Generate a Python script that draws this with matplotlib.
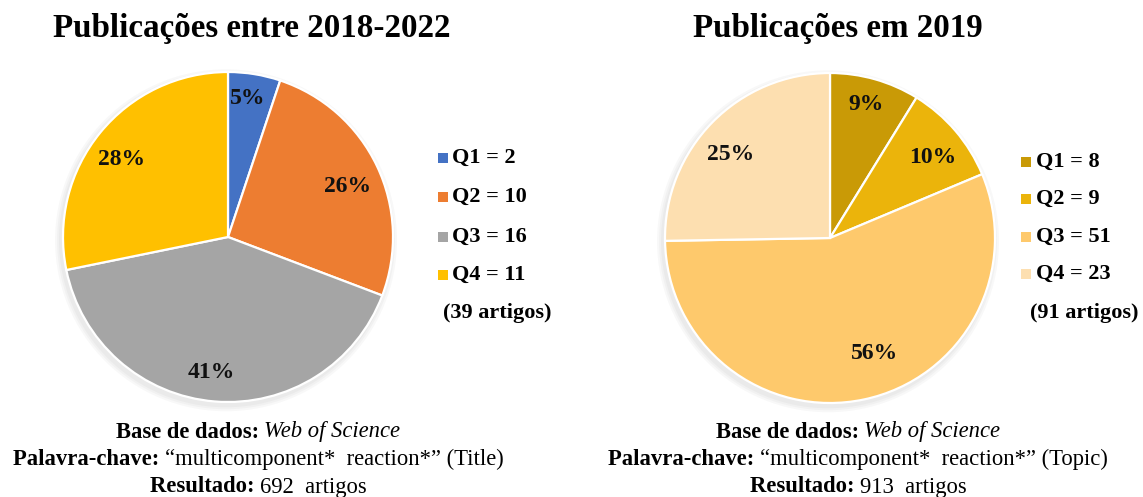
import matplotlib
matplotlib.use("Agg")
import matplotlib.pyplot as plt
from matplotlib.patches import Circle
import numpy as np

plt.rcParams['font.family'] = ['Liberation Serif', 'DejaVu Serif']

W, H = 1143, 497

# data
quartis = ["Q1", "Q2", "Q3", "Q4"]
artigos_total = [2, 10, 16, 11]        # 2018-2022
artigos_2019 = [8, 9, 51, 23]          # 2019
pct_total = ["5%", "26%", "41%", "28%"]
pct_2019 = ["9%", "10%", "56%", "25%"]
cores_total = ["#4472C4", "#ED7D31", "#A5A5A5", "#FFC000"]
cores_2019 = ["#C99A06", "#EBB40B", "#FEC96C", "#FDDFB0"]

titulo_total = "Publicações entre 2018-2022"
titulo_2019 = "Publicações em 2019"
rodape_total = [[("Base de dados: ", "bold", "normal"), ("Web of Science", "normal", "italic")],
                [("Palavra-chave: ", "bold", "normal"), ("“multicomponent*  reaction*” (Title)", "normal", "normal")],
                [("Resultado: ", "bold", "normal"), ("692  artigos", "normal", "normal")]]
rodape_2019 = [[("Base de dados: ", "bold", "normal"), ("Web of Science", "normal", "italic")],
               [("Palavra-chave: ", "bold", "normal"), ("“multicomponent*  reaction*” (Topic)", "normal", "normal")],
               [("Resultado: ", "bold", "normal"), ("913  artigos", "normal", "normal")]]

# label placement (angle in degrees, radius fraction) - Excel "best fit" look
lab_total = [(82, 0.85), (23, 0.79), (-97, 0.83), (144, 0.80)]
lab_2019 = [(75, 0.84), (38, 0.79), (-69, 0.75), (140, 0.79)]

fig = plt.figure(figsize=(W / 100, H / 100), dpi=100)
fig.patch.set_facecolor("white")


def fx(x):
    return x / W


def fy(y):
    return 1 - y / H


def draw_pie(cx, cy, r, vals, cores, pcts, labs):
    pad = 1.06
    ax = fig.add_axes([fx(cx - r * pad), fy(cy + r * pad), 2 * r * pad / W, 2 * r * pad / H])
    # soft shadow
    for k, a in enumerate([0.05, 0.05, 0.06]):
        ax.add_patch(Circle((-0.012, -0.02), 1.0 + 0.012 * (3 - k), color="#7f7f7f",
                            alpha=a, lw=0, zorder=0))
    wedges, _ = ax.pie(vals, colors=cores, startangle=90, counterclock=False,
                       radius=1.0, wedgeprops=dict(edgecolor="white", linewidth=1.6))
    for w in wedges:
        w.set_zorder(2)
    for txt, (ang, rr) in zip(pcts, labs):
        t = np.deg2rad(ang)
        ax.text(rr * np.cos(t), rr * np.sin(t), txt, ha="center", va="center",
                fontsize=17, fontweight="bold", color="#111111", zorder=3)
    ax.set_xlim(-pad, pad)
    ax.set_ylim(-pad, pad)
    ax.set_aspect("equal")
    ax.axis("off")
    return wedges


def draw_legend(x_sq, x_txt, ys, cores, labels, extra, x_extra, y_extra):
    for y, c, lab in zip(ys, cores, labels):
        s = 10
        fig.patches.append(plt.Rectangle((fx(x_sq), fy(y + s / 2)), s / W, s / H,
                                         transform=fig.transFigure, color=c, lw=0))
        fig.text(fx(x_txt), fy(y), lab, ha="left", va="center", fontsize=16,
                 fontweight="bold")
    fig.text(fx(x_extra), fy(y_extra), extra, ha="left", va="center", fontsize=16,
             fontweight="bold")


def mixed_line(xc, y, parts, size=16.3):
    renderer = fig.canvas.get_renderer()
    texts = []
    widths = []
    for s, wgt, sty in parts:
        t = fig.text(0, fy(y), s, ha="left", va="center", fontsize=size,
                     fontweight=wgt, fontstyle=sty)
        texts.append(t)
        widths.append(t.get_window_extent(renderer).width)
    x = xc - sum(widths) / 2
    for t, w in zip(texts, widths):
        t.set_x(fx(x))
        x += w


draw_pie(228, 237, 165, artigos_total, cores_total, pct_total, lab_total)
draw_pie(830, 238, 165, artigos_2019, cores_2019, pct_2019, lab_2019)

fig.text(fx(252), fy(37), titulo_total, ha="center", va="baseline", fontsize=23.8, fontweight="bold")
fig.text(fx(838), fy(37), titulo_2019, ha="center", va="baseline", fontsize=23.8, fontweight="bold")

draw_legend(438, 452, [158, 197, 237, 275], cores_total,
            [f"{q} = {n}" for q, n in zip(quartis, artigos_total)],
            f"({sum(artigos_total)} artigos)", 443, 313)
draw_legend(1021, 1036, [162, 199, 237, 274], cores_2019,
            [f"{q} = {n}" for q, n in zip(quartis, artigos_2019)],
            f"({sum(artigos_2019)} artigos)", 1030, 313)

for i, linha in enumerate(rodape_total):
    mixed_line(258, 432 + i * 27.5, linha)
for i, linha in enumerate(rodape_2019):
    mixed_line(858, 432 + i * 27.5, linha)

fig.savefig("out.png", dpi=100, facecolor="white")
